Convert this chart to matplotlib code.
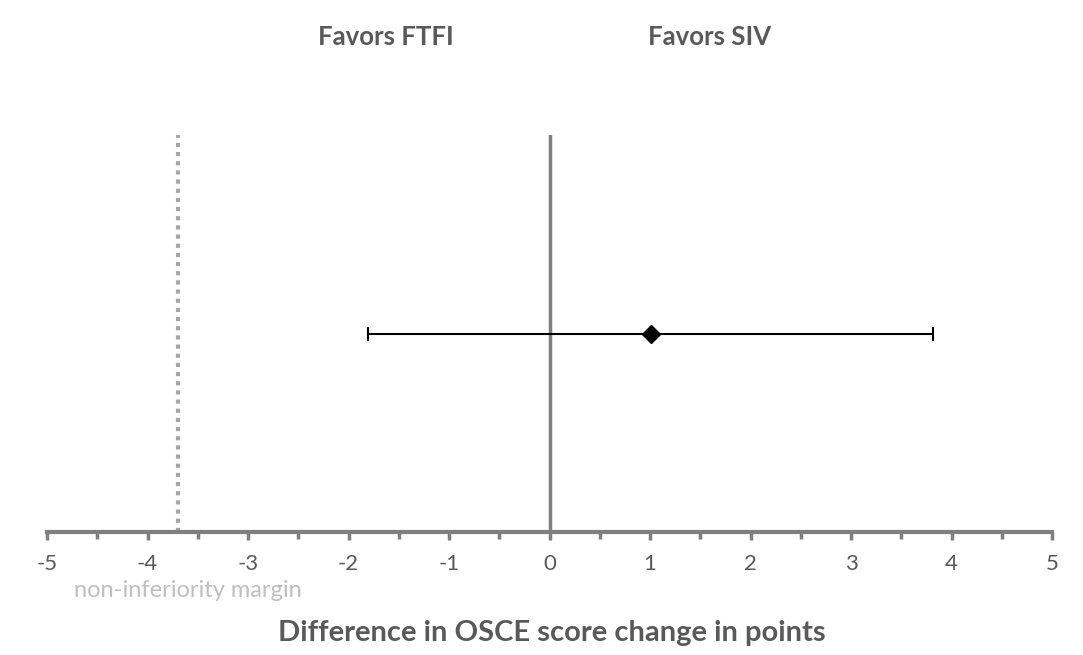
import matplotlib.pyplot as plt

# Estimate and 95% CI for the difference (SIV - FTFI)
estimate = [1.01]
ci_low = [-1.81]
ci_high = [3.82]
margin = -3.7
xticks = [-5, -4, -3, -2, -1, 0, 1, 2, 3, 4, 5]
side_labels = ["Favors FTFI", "Favors SIV"]
xlabel = "Difference in OSCE score change in points"

plt.rcParams['font.family'] = ['Lato', 'DejaVu Sans']
plt.rcParams['axes.unicode_minus'] = False

fig = plt.figure(figsize=(10.83, 6.55), dpi=100)
ax = fig.add_axes([47 / 1083, (655 - 532) / 655, 1005 / 1083, 397 / 655])

ax.set_xlim(-5, 5)
ax.set_ylim(0, 2)

# zero line and non-inferiority margin
ax.plot([0, 0], [0, 2], color="#7f7f7f", lw=2.5, zorder=1)
ax.plot([margin, margin], [0, 2], color="#a6a6a6", lw=3, ls=(0, (1, 1.2)), zorder=1)

# point estimate with CI
y = [1]
ax.errorbar(estimate, y,
            xerr=[[estimate[0] - ci_low[0]], [ci_high[0] - estimate[0]]],
            fmt="D", color="black", ms=9, lw=1.5, capsize=5, capthick=1.5, zorder=3)

# axis styling
for s in ["top", "right", "left"]:
    ax.spines[s].set_visible(False)
ax.spines["bottom"].set_color("#7f7f7f")
ax.spines["bottom"].set_linewidth(3)
ax.set_yticks([])
ax.set_xticks(xticks)
ax.set_xticks([t + 0.5 for t in xticks[:-1]], minor=True)
ax.tick_params(axis="x", which="major", length=6, width=2.5, color="#7f7f7f",
               labelsize=16, labelcolor="#595959", pad=10)
ax.tick_params(axis="x", which="minor", length=5, width=2.5, color="#7f7f7f")

ax.text(margin + 0.1, -0.24, "non-inferiority margin", ha="center", va="top",
        fontsize=17, color="#bfbfbf", transform=ax.transData)

fig.text(386 / 1083, 1 - 37 / 655, side_labels[0], ha="center", va="center",
         fontsize=18.5, fontweight="bold", color="#595959")
fig.text(710 / 1083, 1 - 37 / 655, side_labels[1], ha="center", va="center",
         fontsize=18.5, fontweight="bold", color="#595959")
fig.text(552 / 1083, 1 - 633 / 655, xlabel, ha="center", va="center",
         fontsize=21, fontweight="bold", color="#595959")

fig.savefig("out.png", dpi=100)
